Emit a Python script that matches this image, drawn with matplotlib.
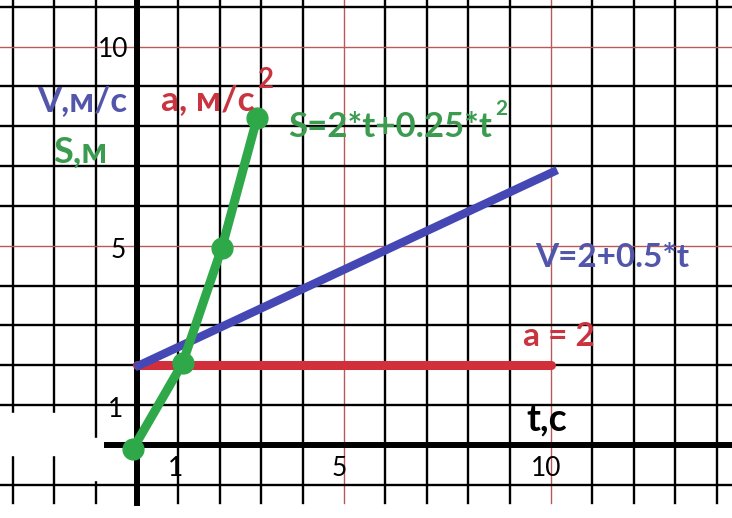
import numpy as np
import matplotlib
matplotlib.use("Agg")
import matplotlib.pyplot as plt
from matplotlib.patches import Rectangle

# values
t_acc = [0, 10]
acc = [2, 2]

t_vel = [-0.05, 10.15]
vel = [1.95, 6.9]

t_path = [-0.1, 1.1, 2.05, 2.9]
path = [-0.1, 2.05, 4.95, 8.2]

x_ticks = [1, 5, 10]
y_ticks = [1, 5, 10]

BLUE = "#4447b4"
BLUE_TXT = "#5256aa"
RED = "#d12f3c"
RED_TXT = "#c8343f"
GREEN = "#2fa84a"
GREEN_TXT = "#3b9b4f"

W, H = 732, 518
X0, Y0 = 137, 445      # pixel position of the origin
SX, SY = 41.4, 39.85   # pixels per unit


def px(x, y):
	return (x - X0) / SX, (Y0 - y) / SY


plt.rcParams['font.family'] = ['Lato', 'DejaVu Sans']

fig = plt.figure(figsize=(W / 100, H / 100), dpi=100)
ax = fig.add_axes([0, 0, 1, 1])
ax.set_axis_off()
xmin, ymax = px(0, 0)
xmax, ymin = px(W, H)
ax.set_xlim(xmin, xmax)
ax.set_ylim(ymin, ymax)

# grid paper
y_bottom = px(0, 503)[1]
for i in range(-3, 15):
	c, lw = ("#b85a5a", 1.0) if i % 5 == 0 else ("black", 1.7)
	ax.plot([i, i], [y_bottom, ymax], color=c, lw=lw, zorder=1)
for j in range(-1, 12):
	c, lw = ("#b85a5a", 1.0) if j % 5 == 0 else ("black", 1.7)
	ax.plot([xmin, xmax], [j, j], color=c, lw=lw, zorder=1)

# erased patch on the left
rx0, ry0 = px(0, 455)
rx1, ry1 = px(92, 413)
ax.add_patch(Rectangle((rx0, ry0), rx1 - rx0, ry1 - ry0, color="white", zorder=2))
rx0, ry0 = px(92, 480)
rx1, ry1 = px(106, 438)
ax.add_patch(Rectangle((rx0, ry0), rx1 - rx0, ry1 - ry0, color="white", zorder=2))

# axes
ax.plot([0, 0], [y_bottom, ymax], color="black", lw=4.3, zorder=3)
ax.plot([px(107, 0)[0], xmax], [0, 0], color="black", lw=4.3, zorder=3)

# graphs
ax.plot(t_acc, acc, color=RED, lw=6.5, solid_capstyle="round", zorder=4)
ax.plot(t_vel, vel, color=BLUE, lw=6.0, solid_capstyle="butt", zorder=5)
ax.plot(t_path, path, color=GREEN, lw=6.5, marker="o", markersize=15, zorder=6)


def label(x, y, s, color, size, weight="bold"):
	xx, yy = px(x, y)
	ax.text(xx, yy, s, color=color, fontsize=size, fontweight=weight,
		ha="center", va="baseline", zorder=7)


label(82, 111, "V,м/с", BLUE_TXT, 25)
label(208, 110, "a, м/с", RED_TXT, 25.5)
label(266, 88, "2", RED_TXT, 20)
label(80, 163, "S,м", GREEN_TXT, 26)
label(390, 137, "S=2*t+0.25*t", GREEN_TXT, 25)
label(501, 115, "2", GREEN_TXT, 15)
label(612, 267, "V=2+0.5*t", BLUE_TXT, 24)
label(559, 346, "a = 2", RED_TXT, 24)
label(547, 430, "t,c", "black", 27)

# tick numbers
for v, cx in zip(x_ticks, [176, 339, 546]):
	xx = px(cx, 0)[0]
	ax.text(xx, px(0, 476)[1], str(v), fontsize=19, ha="center", va="baseline", zorder=7)
for v, (cx, by) in zip(y_ticks, [(116, 417), (118, 258), (113, 57)]):
	xx, yy = px(cx, by)
	ax.text(xx, yy, str(v), fontsize=19, ha="center", va="baseline", zorder=7)

fig.savefig("out.png", dpi=100)
